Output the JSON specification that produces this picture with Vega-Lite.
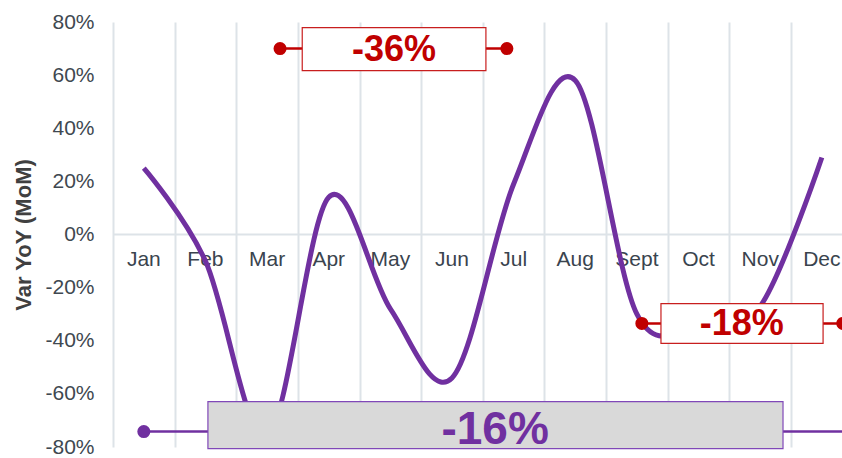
{
  "$schema": "https://vega.github.io/schema/vega-lite/v6.json",
  "width": 729,
  "height": 425,
  "autosize": {"type": "none"},
  "padding": {"left": 113, "top": 22, "right": 0, "bottom": 11},
  "background": "white",
  "config": {"view": {"stroke": null}, "font": "Liberation Sans"},
  "datasets": {
    "series": [
      {"m": 1, "month": "Jan", "value": 25},
      {"m": 2, "month": "Feb", "value": -10},
      {"m": 3, "month": "Mar", "value": -76},
      {"m": 4, "month": "Apr", "value": 14},
      {"m": 5, "month": "May", "value": -28},
      {"m": 6, "month": "Jun", "value": -54},
      {"m": 7, "month": "Jul", "value": 19},
      {"m": 8, "month": "Aug", "value": 58},
      {"m": 9, "month": "Sept", "value": -30},
      {"m": 10, "month": "Oct", "value": -34},
      {"m": 11, "month": "Nov", "value": -27},
      {"m": 12, "month": "Dec", "value": 29}
    ],
    "notes": [
      {"label": "-36%", "x_start": 3.21, "x_end": 6.89, "y": 70, "box_left": 3.57, "box_right": 6.55, "box_bottom": 61.7, "box_top": 77.9, "label_x": 5.06},
      {"label": "-18%", "x_start": 9.08, "x_end": 12.34, "y": -33.5, "box_left": 9.39, "box_right": 12.02, "box_bottom": -41, "box_top": -26, "label_x": 10.7},
      {"label": "-16%", "x_start": 1.0, "x_end": 12.5, "y": -74.2, "box_left": 2.04, "box_right": 11.37, "box_bottom": -80.6, "box_top": -62.9, "label_x": 6.7}
    ]
  },
  "layer": [
    {
      "data": {"values": [{"baseline": 0}]},
      "mark": {"type": "rule", "color": "#dde3e8", "strokeWidth": 2},
      "encoding": {
        "x": {"datum": 0.5, "type": "quantitative", "title": null, "scale": {"domain": [0.5, 12.327], "nice": false, "zero": false},
          "axis": {"values": [0.5, 1.5, 2.5, 3.5, 4.5, 5.5, 6.5, 7.5, 8.5, 9.5, 10.5, 11.5], "grid": true, "gridColor": "#dde3e8", "gridWidth": 2, "labels": false, "ticks": false, "domain": false}},
        "x2": {"datum": 12.327},
        "y": {"field": "baseline", "type": "quantitative", "title": "Var YoY (MoM)", "scale": {"domain": [-80, 80], "nice": false, "zero": false},
          "axis": {"values": [-80, -60, -40, -20, 0, 20, 40, 60, 80], "grid": false, "domain": false, "ticks": false, "tickSize": 0,
            "labelExpr": "datum.value + '%'", "labelFontSize": 21, "labelColor": "#404850", "labelPadding": 19, "labelFont": "Liberation Sans",
            "titleFontSize": 22, "titleFontWeight": "bold", "titleColor": "#404040", "titlePadding": 9, "titleFont": "Liberation Sans"}}
      }
    },
    {
      "data": {"name": "series"},
      "mark": {"type": "text", "fontSize": 21, "color": "#3a444e", "baseline": "middle", "align": "center", "dy": 25},
      "encoding": {
        "x": {"field": "m", "type": "quantitative", "title": null},
        "y": {"datum": 0, "type": "quantitative", "title": "Var YoY (MoM)"},
        "text": {"field": "month"}
      }
    },
    {
      "data": {"name": "series"},
      "mark": {"type": "line", "interpolate": "cardinal", "color": "#7030a0", "strokeWidth": 5},
      "encoding": {
        "x": {"field": "m", "type": "quantitative", "title": null},
        "y": {"field": "value", "type": "quantitative", "title": "Var YoY (MoM)"}
      }
    },
    {
      "data": {"name": "notes"},
      "mark": {"type": "rule", "strokeWidth": 2.5},
      "encoding": {
        "x": {"field": "x_start", "type": "quantitative", "title": null},
        "x2": {"field": "x_end"},
        "y": {"field": "y", "type": "quantitative", "title": "Var YoY (MoM)"},
        "color": {"field": "label", "type": "nominal", "scale": {"domain": ["-36%", "-18%", "-16%"], "range": ["#c00000", "#c00000", "#7030a0"]}, "legend": null}
      }
    },
    {
      "data": {"name": "notes"},
      "transform": [{"fold": ["x_start", "x_end"], "as": ["end", "xe"]}],
      "mark": {"type": "point", "filled": true, "opacity": 1, "size": 170, "shape": "circle"},
      "encoding": {
        "x": {"field": "xe", "type": "quantitative", "title": null},
        "y": {"field": "y", "type": "quantitative", "title": "Var YoY (MoM)"},
        "color": {"field": "label", "type": "nominal", "scale": {"domain": ["-36%", "-18%", "-16%"], "range": ["#c00000", "#c00000", "#7030a0"]}, "legend": null}
      }
    },
    {
      "data": {"name": "notes"},
      "mark": {"type": "rect", "strokeWidth": 1.2},
      "encoding": {
        "x": {"field": "box_left", "type": "quantitative", "title": null},
        "x2": {"field": "box_right"},
        "y": {"field": "box_bottom", "type": "quantitative", "title": "Var YoY (MoM)"},
        "y2": {"field": "box_top"},
        "fill": {"field": "label", "type": "nominal", "scale": {"domain": ["-36%", "-18%", "-16%"], "range": ["#ffffff", "#ffffff", "#d9d9d9"]}, "legend": null},
        "stroke": {"field": "label", "type": "nominal", "scale": {"domain": ["-36%", "-18%", "-16%"], "range": ["#c81e1e", "#c81e1e", "#8048b8"]}, "legend": null}
      }
    },
    {
      "data": {"name": "notes"},
      "transform": [{"filter": "datum.label != '-16%'"}],
      "mark": {"type": "text", "fontSize": 36, "fontWeight": "bold", "color": "#c00000", "baseline": "middle", "align": "center", "dy": 1},
      "encoding": {
        "x": {"field": "label_x", "type": "quantitative", "title": null},
        "y": {"field": "y", "type": "quantitative", "title": "Var YoY (MoM)"},
        "text": {"field": "label"}
      }
    },
    {
      "data": {"name": "notes"},
      "transform": [{"filter": "datum.label == '-16%'"}],
      "mark": {"type": "text", "fontSize": 46, "fontWeight": "bold", "font": "Liberation Sans", "color": "#7030a0", "baseline": "middle", "align": "center", "dy": -2},
      "encoding": {
        "x": {"field": "label_x", "type": "quantitative", "title": null},
        "y": {"field": "y", "type": "quantitative", "title": "Var YoY (MoM)"},
        "text": {"field": "label"}
      }
    }
  ]
}
